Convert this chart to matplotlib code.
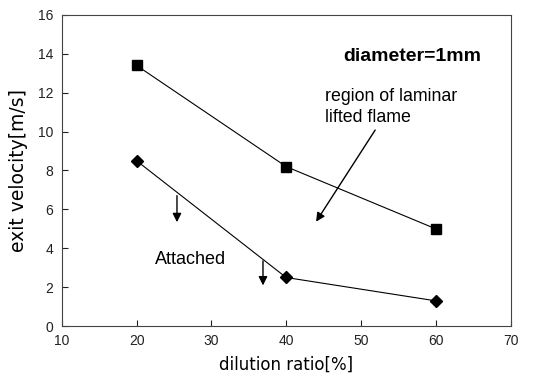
import numpy as np
import matplotlib
matplotlib.use("Agg")
import matplotlib.pyplot as plt

plt.rcParams['font.family'] = ['Liberation Sans', 'DejaVu Sans']

# data
dilution = [20, 40, 60]
lifted_limit = [13.4, 8.2, 5.0]    # squares
attached_limit = [8.5, 2.5, 1.3]   # diamonds

fig = plt.figure(figsize=(5.42, 3.81), dpi=100)
ax = fig.add_axes([0.114, 0.144, 0.828, 0.817])

ax.plot(dilution, lifted_limit, color='black', lw=0.8, marker='s', ms=6.5)
ax.plot(dilution, attached_limit, color='black', lw=0.8, marker='D', ms=6.5)

ax.set_xlim(10, 70)
ax.set_ylim(0, 16)
ax.set_xticks(np.arange(10, 71, 10))
ax.set_yticks(np.arange(0, 17, 2))
ax.tick_params(direction='in', length=4, width=0.8, labelsize=10, pad=6,
               colors='#222222')
for s in ax.spines.values():
    s.set_linewidth(0.8)
    s.set_color('#444444')

ax.set_xlabel('dilution ratio[%]', fontsize=12, labelpad=5,
              family='DejaVu Sans')
ax.set_ylabel('exit velocity[m/s]', fontsize=13.5, labelpad=7,
              family='DejaVu Sans')

arrow = dict(arrowstyle='-|>', color='black', lw=1.0, mutation_scale=13)
ax.annotate('', xy=(25.4, 5.2), xytext=(25.4, 6.85), arrowprops=arrow)
ax.annotate('', xy=(36.9, 1.95), xytext=(36.9, 3.5), arrowprops=arrow)
ax.annotate('', xy=(43.8, 5.25), xytext=(52.1, 10.2), arrowprops=arrow)

ax.text(47.6, 13.85, 'diameter=1mm', fontsize=14, fontweight='bold',
        va='center', ha='left')
ax.text(45.2, 11.25, 'region of laminar\nlifted flame', fontsize=12.8,
        va='center', ha='left', linespacing=1.3)
ax.text(22.4, 3.45, 'Attached', fontsize=13, va='center', ha='left')

fig.savefig('out.png', dpi=100)
